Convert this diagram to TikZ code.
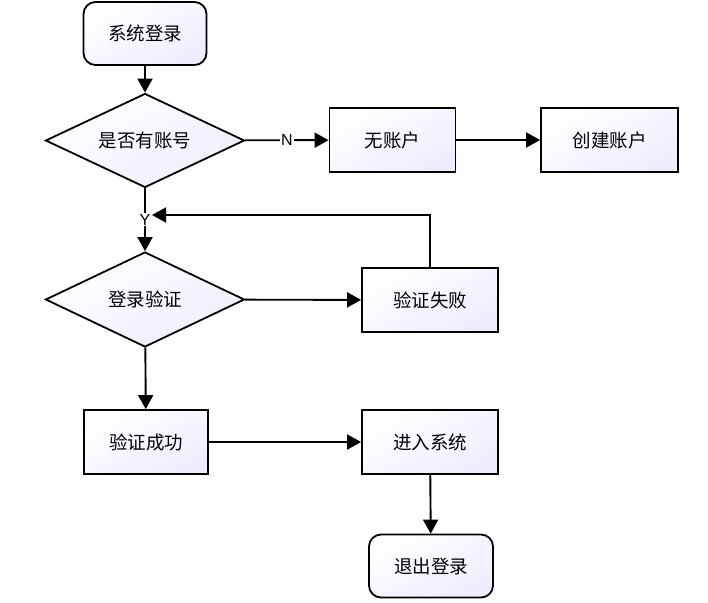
\documentclass[tikz,border=0pt]{standalone}
\usepackage{fontspec}
\setmainfont{Noto Sans CJK SC}
\newfontfamily\latinlbl{Liberation Sans}
\usetikzlibrary{shapes.geometric,arrows.meta}
\begin{document}
\begin{tikzpicture}[x=1pt,y=-1pt,
  font=\fontsize{18.5}{20}\selectfont,
  base/.style={draw=black,line width=1.8pt,inner sep=0pt,
     top color=white,bottom color=blue!7!white,shading angle=30},
  proc/.style={base,rectangle,minimum width=126pt,minimum height=64pt},
  term/.style={base,rectangle,rounded corners=12pt,minimum width=123pt,minimum height=63pt},
  dec/.style={base,diamond,shape aspect=2.12,minimum width=199pt,minimum height=94pt},
  arr/.style={line width=1.9pt,-{Triangle[length=14pt,width=15pt]}},
  lbl/.style={fill=white,inner sep=1pt,font=\fontsize{16}{18}\selectfont\latinlbl}
]
\useasboundingbox (0,0) rectangle (708,602);
\node[term] (start) at (145,33.5) {系统登录};
\node[dec] (acc) at (145,140.5) {是否有账号};
\node[proc] (noacc) at (392.5,140) {无账户};
\node[proc,minimum width=137pt] (create) at (609.5,140) {创建账户};
\node[dec,minimum height=95pt] (login) at (145,299.5) {登录验证};
\node[proc,minimum width=136pt] (fail) at (430,300) {验证失败};
\node[proc,minimum width=124pt] (ok) at (146,442) {验证成功};
\node[proc,minimum width=136pt] (enter) at (430,442) {进入系统};
\node[term,minimum width=124pt] (quit) at (431,566) {退出登录};
\coordinate (fb) at (152,215);

\draw[arr] (start) -- (acc);
\draw[arr] (acc) -- node[lbl,pos=0.5] {N} (noacc);
\draw[arr] (noacc) -- (create);
\draw[arr] (acc) -- node[lbl,pos=0.5] {Y} (login);
\draw[arr] (fail.north) |- (fb);
\draw[arr] (login) -- (fail);
\draw[arr] (login) -- (ok);
\draw[arr] (ok) -- (enter);
\draw[arr] (enter) -- (quit);
\end{tikzpicture}
\end{document}
